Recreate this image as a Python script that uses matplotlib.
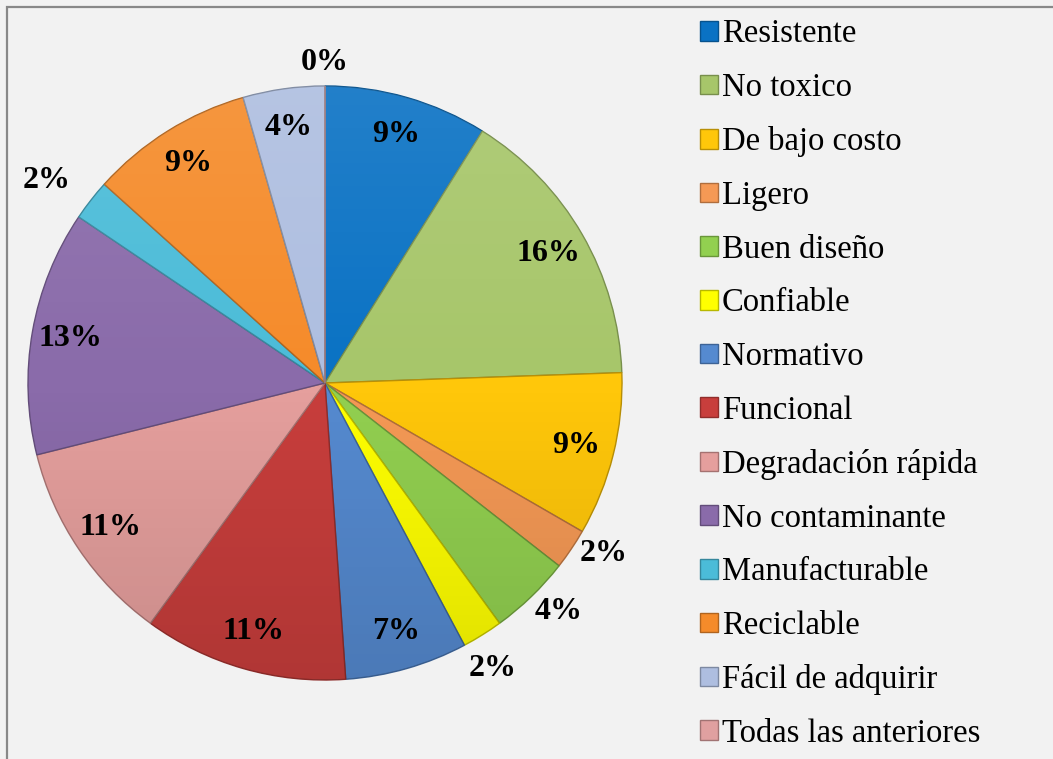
import numpy as np
import matplotlib.pyplot as plt
from matplotlib.patches import Rectangle, Circle
from matplotlib.colors import to_rgb

# Datos del gráfico (conteos de respuestas)
categorias = ['Resistente', 'No toxico', 'De bajo costo', 'Ligero', 'Buen diseño',
              'Confiable', 'Normativo', 'Funcional', 'Degradación rápida',
              'No contaminante', 'Manufacturable', 'Reciclable',
              'Fácil de adquirir', 'Todas las anteriores']
conteos = [4, 7, 4, 1, 2, 1, 3, 5, 5, 6, 1, 4, 2, 0]
etiquetas = ['9%', '16%', '9%', '2%', '4%', '2%', '7%', '11%', '11%', '13%',
             '2%', '9%', '4%', '0%']
# etiquetas dentro (True) o fuera (False) de la porción
dentro = [True, True, True, False, False, False, True, True, True, True,
          False, True, True, False]

colores = ['#0A72C4', '#A7C66A', '#FFC70A', '#F59955', '#92D050', '#FFFF00',
           '#558AD0', '#C83E3C', '#E59F9D', '#8A6BAA', '#4BBCD8', '#F58B2A',
           '#AEBEE0', '#E0A0A0']

plt.rcParams['font.family'] = ['Liberation Serif', 'DejaVu Serif']

W, H = 1053, 759
fig = plt.figure(figsize=(W / 100, H / 100), dpi=100)
fig.patch.set_facecolor('#F2F2F2')

# marco gris (solo visible arriba y a la izquierda)
fig.patches.append(Rectangle((6.5 / W, -0.1), 1.2, 1 - 6.5 / H + 0.1,
                             transform=fig.transFigure, fill=False,
                             edgecolor='#888888', lw=1.6))

cx, cy, r = 325, 383, 297
ax = fig.add_axes([(cx - r) / W, (H - cy - r) / H, 2 * r / W, 2 * r / H])

def oscuro(c, f=0.7):
    return tuple(np.array(to_rgb(c)) * f)

wedges, _ = ax.pie(conteos, colors=colores, startangle=90, counterclock=False,
                   radius=1.0, wedgeprops=dict(linewidth=1.0))
for w, c in zip(wedges, colores):
    w.set_edgecolor(oscuro(c, 0.72))

ax.set_xlim(-1, 1)
ax.set_ylim(-1, 1)
ax.set_aspect('equal')
ax.axis('off')

# degradado suave (más claro arriba, más oscuro abajo)
g = np.linspace(0, 1, 256).reshape(-1, 1)
rgba = np.zeros((256, 1, 4))
rgba[..., 3] = 0.0
rgba[:128, 0, :3] = 0.0
rgba[:128, 0, 3] = (1 - g[:128, 0] / 0.5) * 0.12
rgba[128:, 0, :3] = 1.0
rgba[128:, 0, 3] = ((g[128:, 0] - 0.5) / 0.5) * 0.10
im = ax.imshow(rgba, extent=(-1, 1, -1, 1), origin='lower', aspect='auto',
               zorder=2, interpolation='bilinear')
im.set_clip_path(Circle((0, 0), 1.0, transform=ax.transData))
ax.set_xlim(-1, 1)
ax.set_ylim(-1, 1)

# etiquetas de porcentaje (fuera: distancia y ajuste de ángulo)
pos_fuera = {3: (1.10, -2.6), 4: (1.10, -1.7), 5: (1.115, 1.5),
             10: (1.16, -2.0), 13: (1.08, 0.0)}
for i, (w, txt) in enumerate(zip(wedges, etiquetas)):
    mid = (w.theta1 + w.theta2) / 2
    if dentro[i]:
        d = 0.87
    else:
        d, da = pos_fuera[i]
        mid -= da
    ang = np.deg2rad(mid)
    ax.text(d * np.cos(ang), d * np.sin(ang), txt, ha='center', va='center',
            fontsize=23, fontweight='bold', color='black', clip_on=False,
            zorder=5)

leg = fig.legend(wedges, categorias, loc='upper left',
                 bbox_to_anchor=(700 / W, 1 - 19 / H), frameon=False,
                 fontsize=23.5, handlelength=0.55, handleheight=0.55,
                 handletextpad=0.12, labelspacing=0.71, borderaxespad=0,
                 borderpad=0)

fig.savefig('out.png', dpi=100, facecolor=fig.get_facecolor())
